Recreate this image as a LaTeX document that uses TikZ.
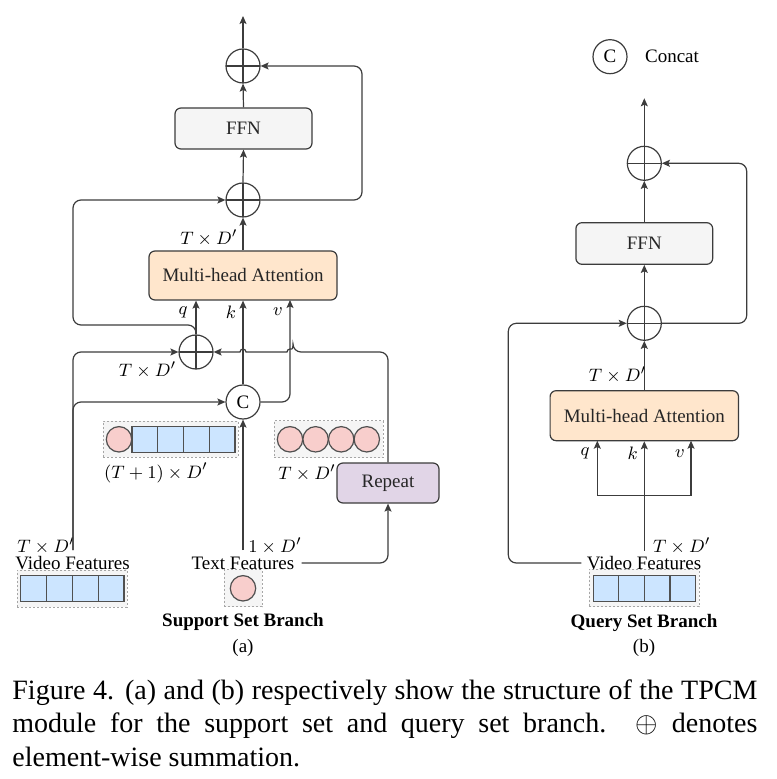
\documentclass[tikz,border=0pt]{standalone}
\usepackage{fontspec}
\setmainfont{Liberation Serif}
\usetikzlibrary{arrows.meta}
\definecolor{linec}{HTML}{3C3C3C}
\definecolor{grayfill}{HTML}{F5F5F5}
\definecolor{peachfill}{HTML}{FFE6CC}
\definecolor{lilacfill}{HTML}{E1D5E7}
\definecolor{bluefill}{HTML}{CCE5FF}
\definecolor{pinkfill}{HTML}{F8CECC}

\begin{document}
\begin{tikzpicture}[x=0.5pt,y=-0.5pt,font=\fontsize{9.5}{11}\selectfont]
	\tikzstyle{flow} = [draw=linec, line width=0.6pt, -{Stealth[length=4pt,width=3.5pt,inset=0.8pt]}]
	\tikzstyle{blockbox} = [draw=linec, rounded corners=3pt, line width=0.6pt, text=black!85, inner sep=0pt]
	\tikzstyle{plusnode} = [draw=linec, circle, minimum size=17pt, line width=0.6pt, inner sep=0pt,
		path picture={\draw[linec, line width=0.6pt] (path picture bounding box.north) -- (path picture bounding box.south)
		(path picture bounding box.west) -- (path picture bounding box.east);}]
	\tikzstyle{catnode} = [draw=linec, circle, minimum size=17pt, line width=0.6pt, inner sep=0pt, fill=white]
	\tikzstyle{groupbox} = [draw=gray!70, dash pattern=on 1pt off 1pt, fill=grayfill, inner sep=0pt, line width=0.5pt]
	\tikzstyle{featsq} = [draw=linec!90, fill=bluefill, minimum size=12.9pt, inner sep=0pt, line width=0.6pt]
	\tikzstyle{featdot} = [draw=linec!90, fill=pinkfill, circle, minimum size=12.7pt, inner sep=0pt, line width=0.6pt]
	\tikzstyle{dimlabel} = [inner sep=0.5pt]
	\useasboundingbox (0,0) rectangle (776,779);

	% (a) support set branch
	\node[plusnode] (tpa) at (243,66) {};
	\node[blockbox, fill=grayfill, minimum width=68.5pt, minimum height=20.5pt] (ffna) at (243.5,128.5) {FFN};
	\node[plusnode] (mpa) at (243,200) {};
	\node[blockbox, fill=peachfill, minimum width=94pt, minimum height=24.5pt] (mhaa) at (243,275.5) {Multi-head Attention};
	\node[plusnode] (lpa) at (196,352) {};
	\node[catnode] (ca) at (243,402) {C};
	\node[groupbox, minimum width=67.5pt, minimum height=18pt] (cata) at (170.5,439) {};
	\node[featdot] (catdot) at (119,439.3) {};
	\foreach \i in {0,...,3}
		\node[featsq] (catsq\i) at (144.9+25.75*\i,439.5) {};
	\node[groupbox, minimum width=54.5pt, minimum height=18.5pt] (repout) at (328.5,439.3) {};
	\foreach \i in {0,...,3}
		\node[featdot] (repdot\i) at (290+25.6*\i,439.3) {};
	\node[blockbox, fill=lilacfill, minimum width=51pt, minimum height=20pt] (repa) at (388,483) {Repeat};
	\node[groupbox, minimum width=55pt, minimum height=18.5pt] (vboxa) at (72,588.5) {};
	\foreach \i in {0,...,3}
		\node[featsq] (vsqa\i) at (33.6+25.8*\i,588.2) {};
	\node[groupbox, minimum width=19pt, minimum height=18.5pt] (tboxa) at (243,588.3) {};
	\node[featdot] (tdota) at (243,588.3) {};

	\node[dimlabel, anchor=east] (dima1) at (239,238) {$T\times D'$};
	\node[dimlabel] (qa) at (183,312) {$q$};
	\node[dimlabel] (ka) at (231,312) {$k$};
	\node[dimlabel] (va) at (278,312) {$v$};
	\node[dimlabel] (dima2) at (147.5,370) {$T\times D'$};
	\node[dimlabel] (dima3) at (156,473) {$(T+1)\times D'$};
	\node[dimlabel] (dima4) at (307,473) {$T\times D'$};
	\node[dimlabel] (dima5) at (46,546) {$T\times D'$};
	\node[dimlabel] (dima6) at (275,546) {$1\times D'$};
	\node[dimlabel] (vfa) at (72.5,563) {Video Features};
	\node[dimlabel] (tfa) at (243,563) {Text Features};
	\node[font=\fontsize{9.5}{11}\selectfont\bfseries] (titlea) at (243,621.7) {Support Set Branch};
	\node (suba) at (243,648.3) {(a)};

	\coordinate (outa) at (243,16);
	\coordinate (ra) at (362,0);
	\coordinate (vina) at (73,550);
	\coordinate (tina) at (243,550);
	\coordinate (vkey) at (290,300);
	\draw[flow] (tpa.north) -- (outa);
	\draw[flow] (ffna.north) -- (tpa.south);
	\draw[flow] (mpa.north) -- (ffna.south);
	\draw[flow] (mhaa.north) -- (mpa.south);
	\draw[flow, rounded corners=4pt] (mpa.east) -| (ra |- tpa) -- (tpa.east);
	\draw[flow] (lpa.north) -- (lpa.north |- mhaa.south);
	\draw[flow, rounded corners=4pt] (lpa.north) |- (73,325) |- (mpa.west);
	\draw[flow] (ca.north) -- (mhaa.south);
	\draw[flow, rounded corners=4pt] (ca.east) -| (vkey);
	\draw[flow, rounded corners=4pt] (vina) |- (lpa.west);
	\draw[flow, rounded corners=4pt] (vina) |- (ca.west);
	\draw[flow] (tina) -- (ca.south);
	\draw[flow, rounded corners=4pt] ([xshift=3pt]tfa.east) -| (repa.south);
	\draw[flow, rounded corners=4pt] (repa.north) |- (293,352) [sharp corners]
		arc[start angle=0, end angle=-180, radius=3] -- (246,352)
		arc[start angle=0, end angle=-180, radius=3] -- (lpa.east);

	% (b) query set branch
	\node[catnode] (legc) at (610,56.7) {C};
	\node[anchor=west] (legt) at (638,56.7) {Concat};
	\node[plusnode] (tpb) at (644.3,163.3) {};
	\node[blockbox, fill=grayfill, minimum width=68.4pt, minimum height=20.8pt] (ffnb) at (644.3,243.5) {FFN};
	\node[plusnode] (mpb) at (644.3,323.3) {};
	\node[blockbox, fill=peachfill, minimum width=94.2pt, minimum height=25pt] (mhab) at (644.3,415.7) {Multi-head Attention};
	\node[groupbox, minimum width=55pt, minimum height=18.7pt] (vboxb) at (644,588) {};
	\foreach \i in {0,...,3}
		\node[featsq] (vsqb\i) at (606.1+25.6*\i,588.3) {};

	\node[dimlabel] (dimb1) at (617.5,375) {$T\times D'$};
	\node[dimlabel] (qb) at (585,453.3) {$q$};
	\node[dimlabel] (kb) at (632.7,453.3) {$k$};
	\node[dimlabel] (vb) at (680,453.3) {$v$};
	\node[dimlabel] (dimb2) at (681.7,546) {$T\times D'$};
	\node[dimlabel] (vfb) at (644,563) {Video Features};
	\node[font=\fontsize{9.5}{11}\selectfont\bfseries] (titleb) at (644,622.7) {Query Set Branch};
	\node (subb) at (644,648.3) {(b)};

	\coordinate (outb) at (644.3,98.3);
	\coordinate (rb) at (746.7,0);
	\coordinate (lb) at (508.3,0);
	\coordinate (vinb) at (644.3,550.7);
	\coordinate (forkb) at (644.3,495.7);
	\coordinate (qkey) at (597.3,440.7);
	\coordinate (vkeyb) at (691,440.7);
	\draw[flow] (tpb.north) -- (outb);
	\draw[flow] (ffnb.north) -- (tpb.south);
	\draw[flow] (mpb.north) -- (ffnb.south);
	\draw[flow] (mhab.north) -- (mpb.south);
	\draw[flow, rounded corners=4pt] (mpb.east) -| (rb |- tpb) -- (tpb.east);
	\draw[flow, rounded corners=4pt] ([xshift=-2pt]vfb.west) -| (lb |- mpb) -- (mpb.west);
	\draw[flow] (vinb) -- (mhab.south);
	\draw[flow] (forkb) -| (qkey);
	\draw[flow] (forkb) -| (vkeyb);

	% caption
	\node[anchor=north west, text width=372.5pt, align=justify, inner sep=0pt,
		font=\fontsize{14}{16.8}\selectfont] (caption) at (12,679)
		{Figure 4. (a) and (b) respectively show the structure of the TPCM\linebreak
		module for the support set and query set branch. $\oplus$ denotes\linebreak
		element-wise summation.};
\end{tikzpicture}
\end{document}
